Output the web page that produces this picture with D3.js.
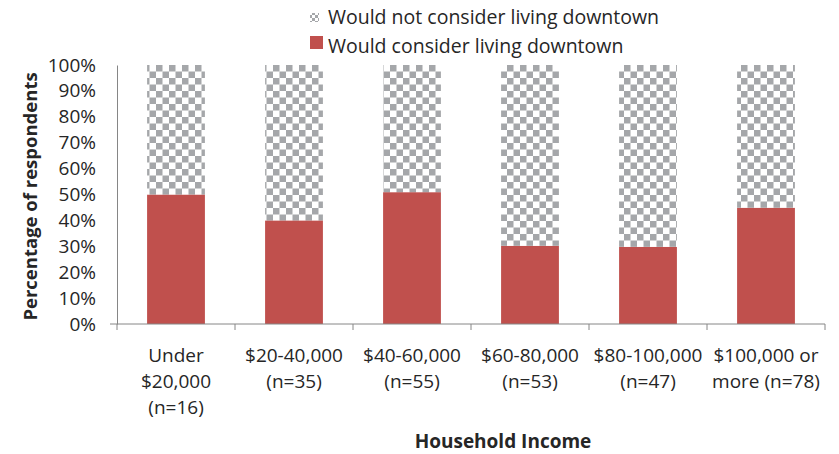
<!DOCTYPE html>
<html>
  <head>
    <meta charset="utf-8">
    <style>
      body { margin: 0; background: #fff; }
      text { font-family: "Open Sans", sans-serif; fill: #262626; }
    </style>
    <script src="https://d3js.org/d3.v7.min.js"></script>
  </head>
  <body>
    <div id="chart"></div>
    <script>
    // data
    var categories = [
      ["Under", "$20,000", "(n=16)"],
      ["$20-40,000", "(n=35)"],
      ["$40-60,000", "(n=55)"],
      ["$60-80,000", "(n=53)"],
      ["$80-100,000", "(n=47)"],
      ["$100,000 or", "more (n=78)"]
    ]
    var consider = [50, 40, 50.9, 30.2, 29.8, 44.9]
    var notConsider = consider.map(function(v) { return 100 - v })
    var yTicks = [0, 10, 20, 30, 40, 50, 60, 70, 80, 90, 100]
    var legendLabels = ["Would not consider living downtown", "Would consider living downtown"]

    var W = 839, H = 454
    var margin = {top: 65, right: 14, bottom: 130, left: 117}
    var width = W - margin.left - margin.right,
        height = H - margin.top - margin.bottom

    var red = "#c0504d", gray = "#a5a7aa", axisCol = "#868686"

    var svg = d3.select("#chart").append("svg")
      .attr("width", W).attr("height", H)

    // checkerboard fill for the "not" series
    var defs = svg.append("defs")
    var pat = defs.append("pattern")
      .attr("id", "checker")
      .attr("patternUnits", "userSpaceOnUse")
      .attr("width", 13).attr("height", 13)
    pat.append("rect").attr("width", 13).attr("height", 13).attr("fill", "#fff")
    pat.append("rect").attr("width", 6.5).attr("height", 6.5).attr("fill", gray)
    pat.append("rect").attr("x", 6.5).attr("y", 6.5).attr("width", 6.5).attr("height", 6.5).attr("fill", gray)

    var small = defs.append("pattern")
      .attr("id", "checkerSmall")
      .attr("patternUnits", "userSpaceOnUse")
      .attr("width", 6).attr("height", 6)
    small.append("rect").attr("width", 6).attr("height", 6).attr("fill", "#fff")
    small.append("rect").attr("width", 3).attr("height", 3).attr("fill", gray)
    small.append("rect").attr("x", 3).attr("y", 3).attr("width", 3).attr("height", 3).attr("fill", gray)

    var g = svg.append("g").attr("transform", "translate(" + margin.left + "," + margin.top + ")")

    var x = d3.scaleBand().domain(d3.range(categories.length)).range([0, width])
      .paddingInner(0.51).paddingOuter(0.255)
    var y = d3.scaleLinear().domain([0, 100]).range([height, 0])

    // stacked bars
    var stack = d3.stack().keys(["consider", "not"])
    var rows = consider.map(function(v, i) { return {consider: v, not: notConsider[i]} })
    var series = stack(rows)
    var fills = [red, "url(#checker)"]

    g.selectAll("g.series").data(series).enter().append("g")
      .attr("fill", function(d, i) { return fills[i] })
      .selectAll("rect").data(function(d) { return d }).enter().append("rect")
        .attr("x", function(d, i) { return x(i) })
        .attr("width", x.bandwidth())
        .attr("y", function(d) { return y(d[1]) })
        .attr("height", function(d) { return y(d[0]) - y(d[1]) })

    // y axis
    var yAxis = g.append("g")
      .call(d3.axisLeft(y).tickValues(yTicks).tickSize(0).tickPadding(21)
        .tickFormat(function(d) { return d + "%" }))
    yAxis.select(".domain").attr("stroke", axisCol)
    yAxis.selectAll("text").style("font-size", "19px").attr("fill", "#262626")
      .style("font-family", "'Open Sans', sans-serif")

    // x axis: line with ticks at category boundaries
    var step = width / categories.length
    var xa = g.append("g").attr("transform", "translate(0," + height + ")")
    xa.append("line").attr("x1", -7).attr("x2", width).attr("stroke", axisCol)
    xa.selectAll("line.tick").data(d3.range(categories.length + 1)).enter().append("line")
      .attr("x1", function(d) { return d * step }).attr("x2", function(d) { return d * step })
      .attr("y1", 0).attr("y2", 6).attr("stroke", axisCol)

    // category labels
    xa.selectAll("text.cat").data(categories).enter().append("text")
      .attr("text-anchor", "middle")
      .attr("transform", function(d, i) { return "translate(" + (x(i) + x.bandwidth() / 2) + ",38)" })
      .style("font-size", "19px")
      .each(function(d) {
        var t = d3.select(this)
        d.forEach(function(line, k) {
          t.append("tspan").attr("x", 0).attr("y", k * 26).text(line)
        })
      })

    // axis titles
    svg.append("text")
      .attr("x", 503).attr("y", 448)
      .attr("text-anchor", "middle")
      .style("font-size", "19px").style("font-weight", "bold")
      .text("Household Income")

    svg.append("text")
      .attr("transform", "translate(37," + (margin.top + height / 2 + 2) + ") rotate(-90)")
      .attr("text-anchor", "middle")
      .style("font-size", "18.5px").style("font-weight", "bold")
      .text("Percentage of respondents")

    // legend
    var legend = svg.append("g")
    legend.append("rect").attr("x", 310).attr("y", 13).attr("width", 9).attr("height", 9)
      .attr("fill", "url(#checkerSmall)")
    legend.append("rect").attr("x", 310).attr("y", 36).attr("width", 13).attr("height", 13)
      .attr("fill", red)
    legend.selectAll("text").data(legendLabels).enter().append("text")
      .attr("x", 328).attr("y", function(d, i) { return 24 + i * 29 })
      .style("font-size", "19.5px")
      .text(function(d) { return d })
    </script>
  </body>
</html>
